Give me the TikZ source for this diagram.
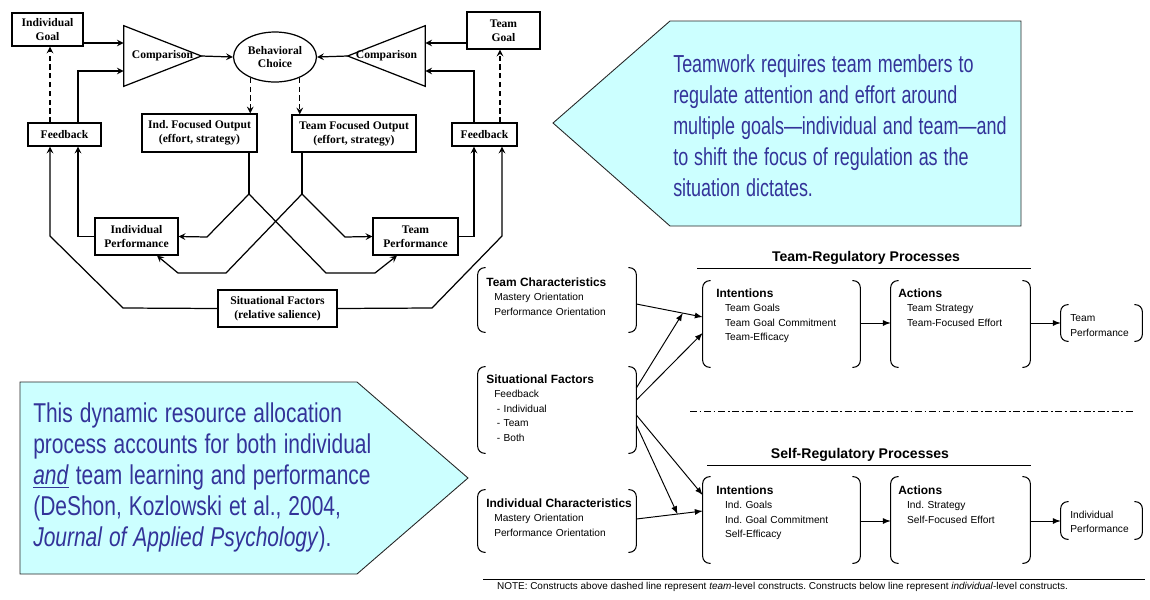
\documentclass[tikz,border=0pt]{standalone}
\usepackage{fontspec}
\setmainfont{Liberation Sans}
\newfontfamily\tnr{Liberation Serif}
\usepackage{graphicx}
\usepackage{tikz}
\usetikzlibrary{calc}
\usetikzlibrary{shapes.geometric}
\definecolor{callfill}{HTML}{CCFFFF}
\definecolor{calltext}{HTML}{333399}
\newcommand{\grphead}[1]{{\fontsize{6.8}{8.3}\selectfont\bfseries #1}}
\tikzset{
   blk/.style={draw, line width=0.7pt, font=\tnr\bfseries\fontsize{6.6}{7.8}\selectfont,
      align=center, inner sep=0pt},
   tri/.style={minimum width=1.54cm, minimum height=1.2cm, inner sep=0pt,
      font=\tnr\bfseries\fontsize{6.6}{7.8}\selectfont},
   wire/.style={line width=0.7pt},
   arr/.style={wire, ->, >=stealth},
   darr/.style={arr, dash pattern=on 3pt off 2pt},
   grp/.style={inner sep=0pt},
   brk/.style={line width=0.6pt, rounded corners=4pt},
   grptext/.style={anchor=north west, inner sep=0pt, text width=3.2cm, align=left,
      font=\fontsize{5.8}{8.3}\selectfont},
   rule/.style={line width=0.55pt},
   rarr/.style={rule, ->, >=latex},
   callout/.style={fill=callfill, draw=black!85, line width=0.5pt},
   calltxt/.style={anchor=north west, inner sep=0pt, text=calltext, align=left},
   ttl/.style={font=\bfseries\fontsize{8}{9}\selectfont, inner sep=0pt},
}
\begin{document}
\frenchspacing
\begin{tikzpicture}[x=0.02cm, y=-0.02cm]
\useasboundingbox (0,0) rectangle (1150,599);

% callouts
\draw[callout] (553,123) -- (670,21) -- (1021,21) -- (1021,226) -- (670,226) -- cycle;
\node[calltxt, text width=10cm, xscale=0.73, font=\fontsize{14}{17.7}\selectfont] (msgA) at (673,54)
   {Teamwork requires team members to\\regulate attention and effort around\\multiple goals—individual and team—and\\to shift the focus of regulation as the\\situation dictates.};
\draw[callout] (20,382) -- (357,382) -- (468,478) -- (357,574) -- (20,574) -- cycle;
\node[calltxt, text width=10cm, xscale=0.77, font=\fontsize{15.5}{17.7}\selectfont] (msgB) at (33,402)
   {This dynamic resource allocation\\process accounts for both individual\\\underline{\textit{and}} team learning and performance\\(DeShon, Kozlowski et al., 2004,\\\textit{Journal of Applied Psychology}).};

% left model
\node[blk, minimum width=1.42cm, minimum height=0.66cm] (igoal) at (47.5,29.5) {Individual\\Goal};
\node[blk, minimum width=1.46cm, minimum height=0.74cm] (tgoal) at (503.5,30.5) {Team\\Goal};
\node[tri] (cmpL) at (162.5,56) {Comparison};
\draw[wire] (cmpL.north west) -- (cmpL.east) -- (cmpL.south west) -- cycle;
\node[tri] (cmpR) at (386.5,56) {Comparison};
\draw[wire] (cmpR.north east) -- (cmpR.west) -- (cmpR.south east) -- cycle;
\node[blk, ellipse, minimum width=1.66cm, minimum height=1.0cm] (choice) at (275,57) {Behavioral\\Choice};
\node[blk, minimum width=1.46cm, minimum height=0.46cm] (fbL) at (64.5,134.5) {Feedback};
\node[blk, minimum width=1.3cm, minimum height=0.46cm] (fbR) at (484.5,134.5) {Feedback};
\node[blk, minimum width=2.3cm, minimum height=0.76cm] (ioutL) at (199.5,133) {Ind. Focused Output\\(effort, strategy)};
\node[blk, minimum width=2.48cm, minimum height=0.74cm] (toutR) at (354,133.5) {Team Focused Output\\(effort, strategy)};
\node[blk, minimum width=1.66cm, minimum height=0.74cm] (iperf) at (136.5,236.5) {Individual\\Performance};
\node[blk, minimum width=1.7cm, minimum height=0.74cm] (tperf) at (415.5,236.5) {Team\\Performance};
\node[blk, minimum width=2.38cm, minimum height=0.74cm] (sitf) at (277.5,308.5) {Situational Factors\\(relative salience)};

\draw[arr] (igoal.east |- 0,43) -- (cmpL.west |- 0,43);
\draw[arr] (fbL.north -| 78,0) |- (cmpL.west |- 0,71);
\draw[darr] (fbL.north -| 50,0) -- (igoal.south -| 50,0);
\draw[arr] (cmpL.east) -- (choice.west);
\draw[arr] (cmpR.west) -- (choice.east);
\draw[arr] (tgoal.west |- 0,43) -- (cmpR.east |- 0,43);
\draw[arr] (fbR.north -| 474,0) |- (cmpR.east |- 0,71);
\draw[darr] (fbR.north -| 500,0) -- (tgoal.south -| 500,0);
\draw[darr] (choice.220) -- (choice.220 |- ioutL.north);
\draw[darr] (choice.320) -- (choice.320 |- toutR.north);

\draw[wire] (ioutL.south -| 249,0) -- (249,194) coordinate (ifork);
\draw[arr] (ifork) -- (207,237) -- (iperf.east);
\draw[arr] (ifork) -- (326,273) -- (375,273) -- (tperf.south -| 397,0);
\draw[wire] (toutR.south -| 302,0) -- (302,194) coordinate (tfork);
\draw[arr] (tfork) -- (345,237) -- (tperf.west);
\draw[arr] (tfork) -- (226,273) -- (178,273) -- (iperf.south -| 157,0);
\draw[arr] (iperf.west) -| (fbL.south -| 78,0);
\draw[arr] (tperf.east) -| (fbR.south -| 474,0);
\draw[arr] (sitf.west) -- (123,308) -- (50,236) -- (fbL.south -| 50,0);
\draw[arr] (sitf.east) -- (432,308) -- (502,236) -- (fbR.south -| 502,0);

% right model
\node[ttl] (treg) at (866,258) {Team-Regulatory Processes};
\draw[rule] (697,268) -- (1031,268);
\node[ttl] (sreg) at (860,455) {Self-Regulatory Processes};
\draw[rule] (707,465) -- (1031,465);
\draw[rule, dash pattern=on 4pt off 1.5pt on 1pt off 1.5pt] (690,411) -- (1133,411);
\draw[rule] (483,579) -- (1145,579);

\node[grp, minimum width=3.16cm, minimum height=1.28cm] (tchar) at (557,300) {};
\node[grp, minimum width=3.16cm, minimum height=1.72cm] (sitfr) at (557,410) {};
\node[grp, minimum width=3.16cm, minimum height=1.24cm] (ichar) at (557,521) {};
\node[grp, minimum width=3.14cm, minimum height=1.72cm] (tint) at (781.5,324) {};
\node[grp, minimum width=2.78cm, minimum height=1.72cm] (tact) at (960.5,324) {};
\node[grp, minimum width=1.62cm, minimum height=0.72cm] (tperfr) at (1101.5,323) {};
\node[grp, minimum width=3.14cm, minimum height=1.72cm] (iint) at (781.5,520) {};
\node[grp, minimum width=2.78cm, minimum height=1.72cm] (iact) at (960.5,520) {};
\node[grp, minimum width=1.62cm, minimum height=0.74cm] (iperfr) at (1101.5,520.5) {};
\foreach \n in {tchar,sitfr,ichar,tint,tact,tperfr,iint,iact,iperfr}{
   \draw[brk] ([xshift=4.5pt]\n.north west) -- (\n.north west) -- (\n.south west) -- ([xshift=4.5pt]\n.south west);
   \draw[brk] ([xshift=-4.5pt]\n.north east) -- (\n.north east) -- (\n.south east) -- ([xshift=-4.5pt]\n.south east);
}

\node[grptext] (tchart) at (486,277) {\grphead{Team Characteristics}\\\hspace*{4.5pt}Mastery Orientation\\\hspace*{4.5pt}Performance Orientation};
\node[grptext] (sitfrt) at (486,374) {\grphead{Situational Factors}\\\hspace*{4.5pt}Feedback\\\hspace*{6pt}- Individual\\\hspace*{6pt}- Team\\\hspace*{6pt}- Both};
\node[grptext] (ichart) at (486,498) {\grphead{Individual Characteristics}\\\hspace*{4.5pt}Mastery Orientation\\\hspace*{4.5pt}Performance Orientation};
\node[grptext] (tintt) at (716,288) {\grphead{Intentions}\\\hspace*{5pt}Team Goals\\\hspace*{5pt}Team Goal Commitment\\\hspace*{5pt}Team-Efficacy};
\node[grptext] (tactt) at (898,288) {\grphead{Actions}\\\hspace*{5pt}Team Strategy\\\hspace*{5pt}Team-Focused Effort};
\node[grptext] (tperft) at (1070,314.5) {Team\\Performance};
\node[grptext] (iintt) at (716,485) {\grphead{Intentions}\\\hspace*{5pt}Ind. Goals\\\hspace*{5pt}Ind. Goal Commitment\\\hspace*{5pt}Self-Efficacy};
\node[grptext] (iactt) at (898,485) {\grphead{Actions}\\\hspace*{5pt}Ind. Strategy\\\hspace*{5pt}Self-Focused Effort};
\node[grptext] (iperft) at (1070,510.5) {Individual\\Performance};

\draw[rarr] (tchar.east |- 0,304) -- coordinate[pos=0.7] (tmeet) (tint.west |- 0,317);
\draw[rarr] (sitfr.east |- 0,388) -- (tmeet);
\draw[rarr] (sitfr.east |- 0,400) -- (tint.west |- 0,333);
\draw[rarr] (sitfr.east |- 0,415) -- (iint.west |- 0,495);
\draw[rarr] (ichar.east |- 0,519) -- coordinate[pos=0.62] (imeet) (iint.west |- 0,511);
\draw[rarr] (sitfr.east |- 0,425) -- (imeet);
\draw[rarr] (tint.east |- 0,323) -- (tact.west |- 0,323);
\draw[rarr] (tact.east |- 0,323) -- (tperfr.west |- 0,323);
\draw[rarr] (iint.east |- 0,521) -- (iact.west |- 0,521);
\draw[rarr] (iact.east |- 0,521) -- (iperfr.west |- 0,521);

\node[inner sep=0pt] (note) at (782.5,587) {\resizebox{11.42cm}{!}{\fontsize{6}{7}\selectfont NOTE: Constructs above dashed line represent \textit{team}-level constructs. Constructs below line represent \textit{individual}-level constructs.}};
\end{tikzpicture}
\end{document}
